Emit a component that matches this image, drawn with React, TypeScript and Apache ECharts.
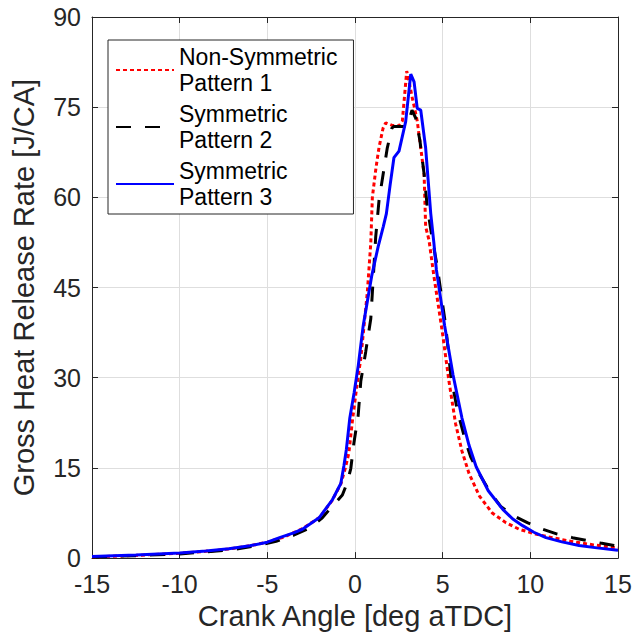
import React, { useEffect, useRef } from "react";
import * as echarts from "echarts";

const xTicks = [-15, -10, -5, 0, 5, 10, 15];
const yTicks = [0, 15, 30, 45, 60, 75, 90];

const seriesNames = ["Non-Symmetric\nPattern 1", "Symmetric\nPattern 2", "Symmetric\nPattern 3"];

// Pattern 1 (red dotted): [crank angle, HRR]
const pattern1: number[][] = [
  [-15, 0.2], [-12.5, 0.45], [-10, 0.8], [-8, 1.25], [-7, 1.6], [-6, 2.05], [-5, 2.65],
  [-4, 3.55], [-3, 4.9], [-2, 6.8], [-1.3, 9.6], [-0.8, 12.4], [-0.55, 15.0], [-0.35, 17.5],
  [-0.15, 22.8], [0.1, 28.5], [0.33, 33.2], [0.7, 44.1], [0.9, 52.4], [0.99, 60], [1.2, 65],
  [1.37, 68.3], [1.6, 71.5], [1.75, 72.4], [2.1, 72.0], [2.51, 71.9], [2.7, 72.7], [2.95, 81],
  [3.1, 79], [3.27, 76.5], [3.37, 75.2], [3.55, 72.7], [3.94, 63.9], [4.03, 55.1], [4.22, 52.9],
  [4.5, 46.9], [4.98, 37.6], [5.36, 29.4], [5.74, 22.3], [6.1, 17.8], [6.5, 14.1], [7.1, 10.3],
  [7.83, 7.5], [8.6, 5.9], [9.36, 4.8], [10.3, 4.0], [11.25, 3.4], [12.5, 2.7], [13.6, 2.2],
  [14.68, 1.8], [15, 1.7],
];

// Pattern 2 (black dashed)
const pattern2: number[][] = [
  [-15, 0.2], [-12.5, 0.4], [-10, 0.7], [-8.5, 1.05], [-7, 1.4], [-5.5, 2.1], [-4.5, 2.8],
  [-3.5, 3.8], [-2.6, 5.0], [-1.9, 6.6], [-1.3, 8.6], [-0.72, 10.5], [-0.45, 12.5],
  [-0.24, 14.9], [-0.06, 19.2], [0.18, 23.7], [0.33, 29.4], [0.61, 34.3], [0.9, 39.8],
  [1.08, 48.5], [1.18, 53.4], [1.37, 59.5], [1.84, 68.2], [2.1, 71.5], [2.22, 71.8],
  [2.98, 71.8], [3.25, 74.5], [3.46, 73.2], [3.7, 69.5], [3.94, 63.9], [4.12, 58.4],
  [4.4, 53.2], [4.69, 48.5], [5.17, 38.7], [5.46, 30.5], [5.84, 24.5], [6.3, 19.5],
  [6.6, 16.8], [7.07, 14.1], [7.7, 11.0], [8.31, 8.6], [9.0, 7.1], [9.83, 5.9],
  [10.7, 4.8], [11.54, 4.0], [12.4, 3.4], [13.25, 2.9], [14.0, 2.5], [14.77, 2.1], [15, 2.0],
];

// Pattern 3 (blue solid)
const pattern3: number[][] = [
  [-15, 0.25], [-12.5, 0.5], [-10, 0.85], [-8.5, 1.2], [-7.2, 1.55], [-6, 2.05], [-5, 2.65],
  [-4.3, 3.4], [-3.5, 4.2], [-3, 4.8], [-2.05, 6.7], [-1.29, 9.7], [-0.81, 12.4],
  [-0.63, 15.4], [-0.49, 18.1], [-0.3, 23.2], [-0.05, 27.5], [0.19, 32.1], [0.47, 38.7],
  [0.95, 46.9], [1.32, 51.8], [1.61, 55.1], [1.79, 57.3], [2.0, 62], [2.22, 66.6],
  [2.51, 67.7], [2.89, 72.6], [3.18, 80.5], [3.37, 79.2], [3.55, 74.8], [3.75, 74.5],
  [4.03, 68.2], [4.32, 57.3], [4.5, 52.4], [4.64, 48], [5.11, 38.7], [5.59, 30.5],
  [6.1, 23.3], [6.5, 18.8], [6.91, 15.2], [7.6, 11.2], [8.43, 8.1], [9.0, 6.5],
  [9.56, 5.4], [10.2, 4.3], [10.89, 3.4], [11.8, 2.7], [12.78, 2.1], [13.8, 1.7],
  [14.87, 1.35], [15, 1.3],
];

const FONT = "'Liberation Sans', Arial, Helvetica, sans-serif";
const AXIS_COLOR = "#262626";
const GRID_COLOR = "#dedede";

export default function App() {
  const ref = useRef<HTMLDivElement>(null);

  useEffect(() => {
    if (!ref.current) return;
    const chart = echarts.init(ref.current, undefined, { renderer: "svg" });

    const xBase = {
      type: "value" as const,
      min: -15,
      max: 15,
      interval: 5,
      axisLine: { show: true, onZero: false, lineStyle: { color: AXIS_COLOR, width: 1 } },
      axisTick: { show: true, inside: true, length: 6, lineStyle: { color: AXIS_COLOR } },
    };
    const yBase = {
      type: "value" as const,
      min: 0,
      max: 90,
      interval: 15,
      axisLine: { show: true, onZero: false, lineStyle: { color: AXIS_COLOR, width: 1 } },
      axisTick: { show: true, inside: true, length: 6, lineStyle: { color: AXIS_COLOR } },
    };

    chart.setOption({
      animation: false,
      backgroundColor: "#ffffff",
      textStyle: { fontFamily: FONT },
      grid: { left: 92, right: 24, top: 17, bottom: 70, containLabel: false },
      legend: {
        show: true,
        orient: "vertical",
        left: 108,
        top: 40,
        padding: [4, 16, 4, 7],
        itemGap: 5,
        itemWidth: 58,
        itemHeight: 14,
        backgroundColor: "#ffffff",
        borderColor: AXIS_COLOR,
        borderWidth: 1,
        borderRadius: 0,
        itemStyle: { opacity: 0 },
        data: seriesNames,
        textStyle: { fontFamily: FONT, fontSize: 23, color: "#000000", lineHeight: 26 },
      },
      xAxis: [
        {
          ...xBase,
          position: "bottom",
          name: "Crank Angle [deg aTDC]",
          nameLocation: "middle",
          nameGap: 40,
          nameTextStyle: { fontFamily: FONT, fontSize: 29, color: AXIS_COLOR },
          axisLabel: {
            show: true,
            margin: 13,
            fontFamily: FONT,
            fontSize: 25,
            color: AXIS_COLOR,
            customValues: xTicks,
          },
          splitLine: { show: true, lineStyle: { color: GRID_COLOR, width: 1 } },
        },
        {
          ...xBase,
          position: "top",
          axisLabel: { show: false },
          splitLine: { show: false },
        },
      ],
      yAxis: [
        {
          ...yBase,
          position: "left",
          name: "Gross Heat Release Rate [J/CA]",
          nameLocation: "middle",
          nameGap: 54,
          nameTextStyle: { fontFamily: FONT, fontSize: 29, color: AXIS_COLOR },
          axisLabel: {
            show: true,
            margin: 11,
            fontFamily: FONT,
            fontSize: 25,
            color: AXIS_COLOR,
            customValues: yTicks,
          },
          splitLine: { show: true, lineStyle: { color: GRID_COLOR, width: 1 } },
        },
        {
          ...yBase,
          position: "right",
          axisLabel: { show: false },
          splitLine: { show: false },
        },
      ],
      series: [
        {
          name: seriesNames[0],
          type: "line",
          data: pattern1,
          showSymbol: false,
          symbol: "none",
          smooth: false,
          lineStyle: { color: "#ff0000", width: 3, type: [4, 3] },
          itemStyle: { color: "#ff0000" },
          z: 2,
        },
        {
          name: seriesNames[1],
          type: "line",
          data: pattern2,
          showSymbol: false,
          symbol: "none",
          lineStyle: { color: "#000000", width: 3, type: [15, 14] },
          itemStyle: { color: "#000000" },
          z: 3,
        },
        {
          name: seriesNames[2],
          type: "line",
          data: pattern3,
          showSymbol: false,
          symbol: "none",
          lineStyle: { color: "#0000ff", width: 3, type: "solid" },
          itemStyle: { color: "#0000ff" },
          z: 4,
        },
      ],
    });

    return () => chart.dispose();
  }, []);

  return (
    <div
      ref={ref}
      style={{ position: "fixed", left: 0, top: 0, width: 642, height: 635, background: "#fff" }}
    />
  );
}
